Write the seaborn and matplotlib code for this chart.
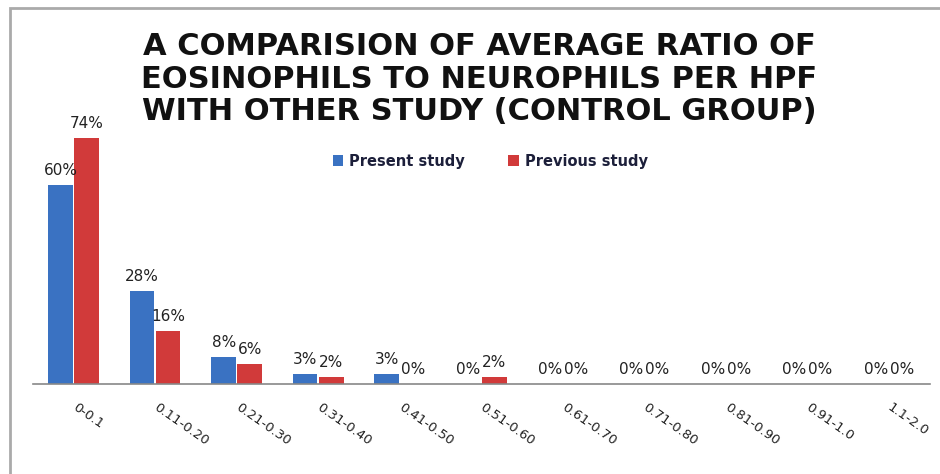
import matplotlib
matplotlib.use("Agg")
import matplotlib.pyplot as plt
import seaborn as sns
import pandas as pd
from matplotlib.patches import Rectangle

categories = ["0-0.1", "0.11-0.20", "0.21-0.30", "0.31-0.40", "0.41-0.50", "0.51-0.60",
              "0.61-0.70", "0.71-0.80", "0.81-0.90", "0.91-1.0", "1.1-2.0"]
present = [60, 28, 8, 3, 3, 0, 0, 0, 0, 0, 0]
previous = [74, 16, 6, 2, 0, 2, 0, 0, 0, 0, 0]
series = ["Present study", "Previous study"]
colors = ["#3a72c2", "#d13a3a"]

df = pd.DataFrame({
    "cat": categories * 2,
    "val": present + previous,
    "series": [series[0]] * len(categories) + [series[1]] * len(categories),
})

sns.set_theme(style="white")
plt.rcParams['font.family'] = ['DejaVu Sans']

fig = plt.figure(figsize=(9.4, 4.74), dpi=100)
ax = fig.add_axes([0.035, 0.19, 0.954, 0.561])

sns.barplot(data=df, x="cat", y="val", hue="series", palette=colors, ax=ax,
            width=0.64, gap=0.06, saturation=1, edgecolor=None, linewidth=0, legend=True)

for container in ax.containers:
    for bar in container:
        h = bar.get_height()
        ax.annotate(f"{int(h)}%", (bar.get_x() + bar.get_width() / 2, h),
                    xytext=(0, 5), textcoords="offset points",
                    ha="center", va="bottom", fontsize=11, color="#222222")

ax.set_ylim(0, 80)
ax.set_xlim(-0.5, len(categories) - 0.5)
ax.set_yticks([])
ax.set_xlabel("")
ax.set_ylabel("")
for s in ["top", "right", "left"]:
    ax.spines[s].set_visible(False)
ax.spines["bottom"].set_color("#888888")
ax.spines["bottom"].set_linewidth(1.2)
ax.tick_params(axis="x", length=0, pad=16)
ax.set_xticks(range(len(categories)))
ax.set_xticklabels(categories, rotation=-35, ha="left", va="center",
                   rotation_mode="anchor", fontsize=9.5, color="#222222")

leg = ax.legend(loc="center", bbox_to_anchor=(0.51, 0.838), ncol=2, frameon=False,
                handlelength=0.7, handleheight=0.7, columnspacing=3.0, handletextpad=0.4,
                prop={"weight": "bold", "size": 10.5})
for t in leg.get_texts():
    t.set_color("#1c1f3a")

fig.text(0.51, 1 - 79 / 474,
         "A COMPARISION OF AVERAGE RATIO OF\nEOSINOPHILS TO NEUROPHILS PER HPF\nWITH OTHER STUDY (CONTROL GROUP)",
         ha="center", va="center", fontsize=22, fontweight="bold", linespacing=1.17,
         color="#111111")

fig.patches.append(Rectangle((10 / 940, -0.05), 1.2, 1 - 8 / 474 + 0.05,
                             transform=fig.transFigure, fill=False,
                             edgecolor="#aaaaaa", linewidth=2))

fig.savefig("out.png", dpi=100)
